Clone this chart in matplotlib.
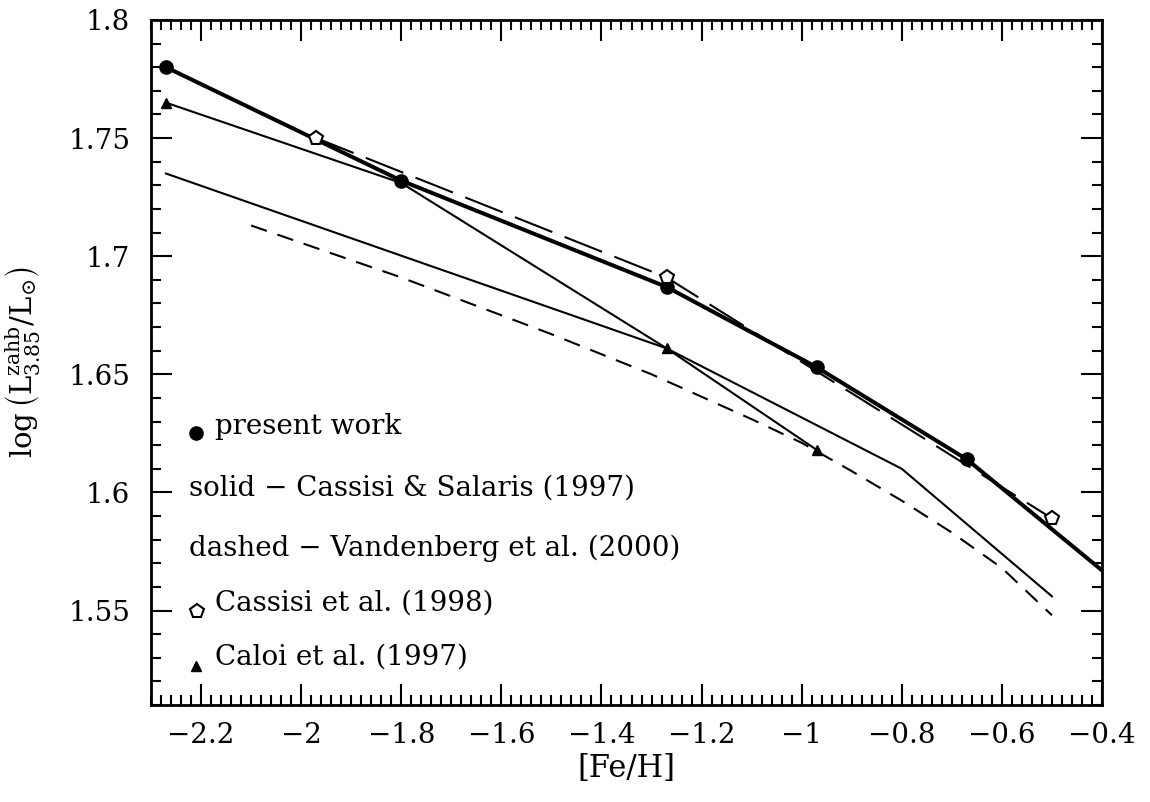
import matplotlib
matplotlib.use('Agg')
import matplotlib.pyplot as plt
from matplotlib.ticker import MultipleLocator, FuncFormatter

plt.rcParams['font.family'] = ['DejaVu Serif']
plt.rcParams['mathtext.fontset'] = 'dejavuserif'
plt.rcParams['lines.scale_dashes'] = False

# ---------------- data ----------------
# present work (filled circles, thick solid line)
present_feh = [-2.27, -1.80, -1.27, -0.97, -0.67]
present_logl = [1.780, 1.732, 1.687, 1.653, 1.614]
present_line_feh = [-2.27, -1.80, -1.27, -0.97, -0.67, -0.40]
present_line_logl = [1.780, 1.732, 1.687, 1.653, 1.614, 1.567]

# Cassisi et al. (1998) (open pentagons, long-dashed line)
cassisi98_feh = [-1.97, -1.27, -0.50]
cassisi98_logl = [1.750, 1.691, 1.589]

# Caloi et al. (1997) (filled triangles, thin solid line)
caloi_feh = [-2.27, -1.27, -0.97]
caloi_logl = [1.765, 1.661, 1.618]
caloi_line_feh = [-2.27, -1.80, -1.27, -0.97]
caloi_line_logl = [1.765, 1.731, 1.661, 1.618]

# Cassisi & Salaris (1997) (thin solid)
cs97_feh = [-2.27, -1.27, -0.80, -0.50]
cs97_logl = [1.735, 1.661, 1.610, 1.556]

# Vandenberg et al. (2000) (short-dashed)
vdb_feh = [-2.10, -1.80, -1.50, -1.30, -1.10, -1.00, -0.90, -0.80, -0.70, -0.60, -0.50]
vdb_logl = [1.713, 1.691, 1.667, 1.650, 1.631, 1.621, 1.609, 1.5965, 1.583, 1.568, 1.548]

legend_labels = ['present work',
                 'solid \u2212 Cassisi & Salaris (1997)',
                 'dashed \u2212 Vandenberg et al. (2000)',
                 'Cassisi et al. (1998)',
                 'Caloi et al. (1997)']

# ---------------- figure ----------------
fig = plt.figure(figsize=(11.5, 8.02), dpi=100)
ax = fig.add_axes([151/1150, 1-705/802, 951/1150, 685/802])

thin = 1.5
ax.plot(vdb_feh, vdb_logl, color='black', lw=thin, dashes=(12, 8), zorder=2)
ax.plot(cs97_feh, cs97_logl, color='black', lw=thin, zorder=2)
ax.plot(caloi_line_feh, caloi_line_logl, color='black', lw=thin, zorder=2)
ax.plot(cassisi98_feh, cassisi98_logl, color='black', lw=thin, dashes=(29, 9.5), zorder=2)
ax.plot(present_line_feh, present_line_logl, color='black', lw=2.9, zorder=3)

ax.plot(present_feh, present_logl, 'o', color='black', ms=9.5, zorder=4)
ax.plot(caloi_feh, caloi_logl, '^', color='black', ms=7.5, zorder=4)
ax.plot(cassisi98_feh, cassisi98_logl, 'p', mfc='white', mec='black', mew=1.5,
        ms=10.5, zorder=5)

ax.set_xlim(-2.3, -0.4)
ax.set_ylim(1.51, 1.8)

ax.xaxis.set_major_locator(MultipleLocator(0.2))
ax.xaxis.set_minor_locator(MultipleLocator(0.02))
ax.yaxis.set_major_locator(MultipleLocator(0.05))
ax.yaxis.set_minor_locator(MultipleLocator(0.01))

def fmt(v, pos):
    return ('%g' % round(v, 3)).replace('-', '\u2212')

ax.xaxis.set_major_formatter(FuncFormatter(fmt))
ax.yaxis.set_major_formatter(FuncFormatter(fmt))

ax.tick_params(which='both', direction='in', top=True, right=True, width=1.5,
               labelsize=20)
ax.tick_params(which='major', length=15)
ax.tick_params(which='minor', length=7)
ax.tick_params(axis='x', pad=12)
ax.tick_params(axis='y', pad=15)
for s in ax.spines.values():
    s.set_linewidth(2)

ax.set_xlabel('[Fe/H]', fontsize=22)
ax.xaxis.set_label_coords(0.5, -0.07)
ax.set_ylabel(r'$\log\left(\mathrm{L}^{\mathrm{zahb}}_{3.85}/\mathrm{L}_{\odot}\right)$',
              fontsize=21)
ax.yaxis.set_label_coords(-0.115, 0.5)

# legend (manual layout)
tr = ax.transAxes
fs = 20
ax.plot([0.047], [0.397], 'o', color='black', ms=9.5, transform=tr, clip_on=False)
ax.text(0.067, 0.406, legend_labels[0], transform=tr, fontsize=fs, va='center', ha='left')
ax.text(0.040, 0.317, legend_labels[1], transform=tr, fontsize=fs, va='center', ha='left')
ax.text(0.040, 0.229, legend_labels[2], transform=tr, fontsize=fs, va='center', ha='left')
ax.plot([0.048], [0.137], 'p', mfc='white', mec='black', mew=1.5, ms=10.5,
        transform=tr, clip_on=False)
ax.text(0.067, 0.149, legend_labels[3], transform=tr, fontsize=fs, va='center', ha='left')
ax.plot([0.047], [0.057], '^', color='black', ms=7.5, transform=tr, clip_on=False)
ax.text(0.067, 0.070, legend_labels[4], transform=tr, fontsize=fs, va='center', ha='left')

fig.savefig('out.png', dpi=100)
